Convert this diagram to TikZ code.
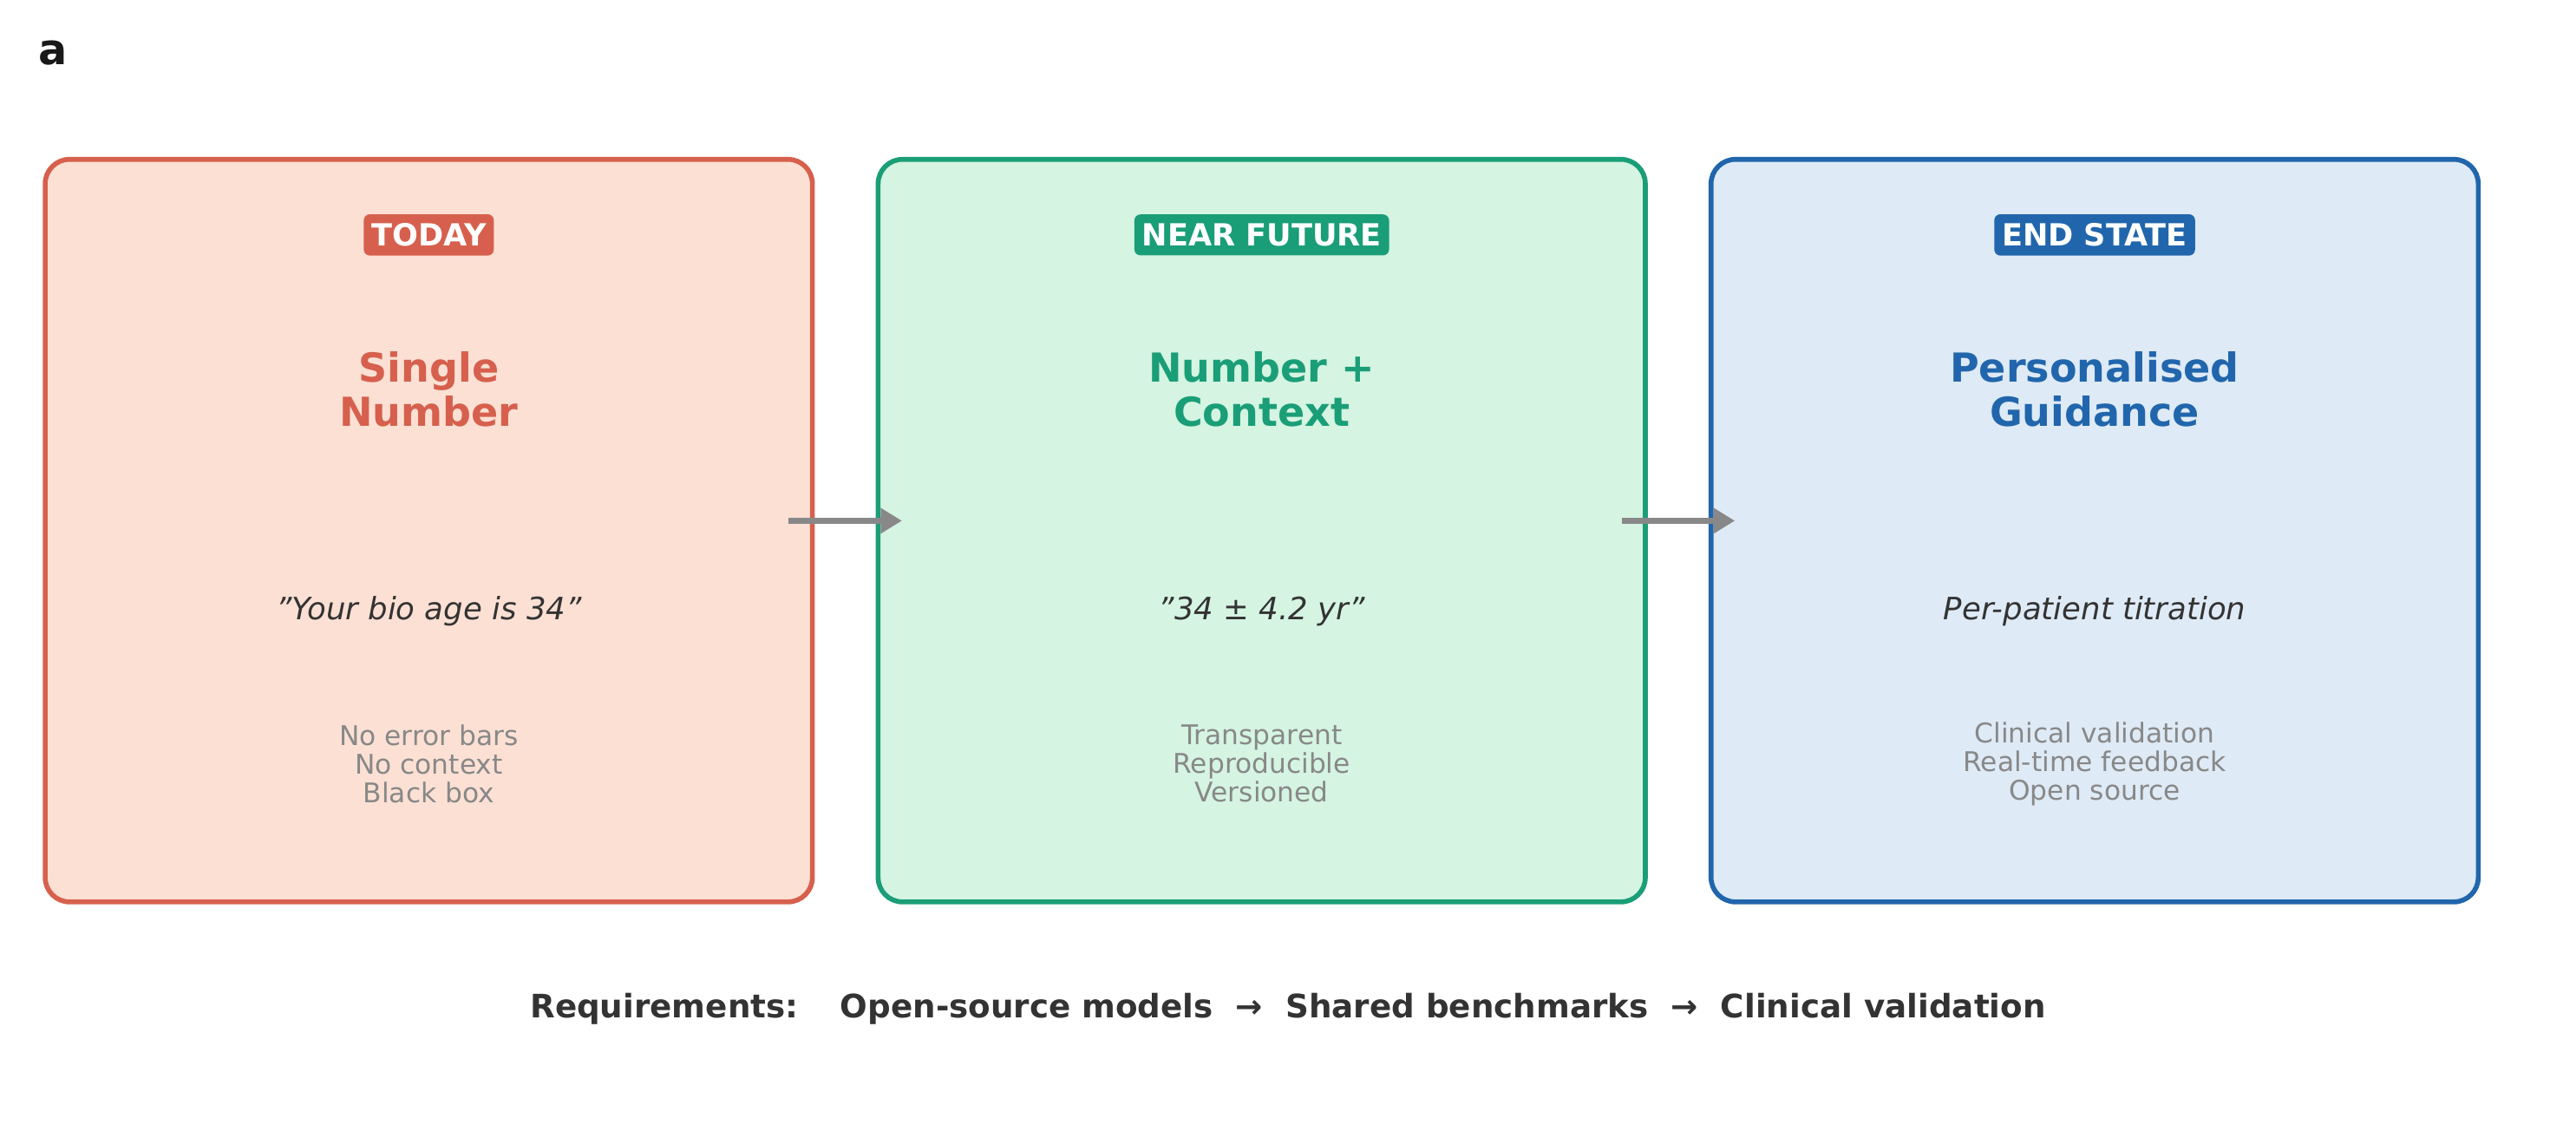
\documentclass[tikz,border=0pt]{standalone}
\usepackage{fontspec}
\setmainfont{DejaVu Sans}
\usetikzlibrary{arrows.meta,positioning}
\definecolor{todayc}{HTML}{D6604D}
\definecolor{todayf}{HTML}{FCE0D4}
\definecolor{nearc}{HTML}{1A9E77}
\definecolor{nearf}{HTML}{D5F4E2}
\definecolor{endc}{HTML}{2166AC}
\definecolor{endf}{HTML}{DEEAF6}
\definecolor{darktxt}{HTML}{333333}
\definecolor{graytxt}{HTML}{888888}
\begin{document}
\begin{tikzpicture}[x=0.01894cm,y=-0.01894cm]
  \tikzstyle{stage}=[draw,line width=1.6pt,rounded corners=8pt,minimum width=467*0.01894cm,minimum height=452*0.01894cm]
  \tikzstyle{badge}=[text=white,font=\bfseries\fontsize{10}{12}\selectfont,rounded corners=2pt,inner xsep=2.5pt,inner ysep=3pt]
  \tikzstyle{headline}=[font=\bfseries\fontsize{13.1}{14.5}\selectfont,align=center]
  \tikzstyle{quote}=[text=darktxt,font=\itshape\fontsize{10.1}{12}\selectfont]
  \tikzstyle{notes}=[text=graytxt,font=\fontsize{8.9}{9.4}\selectfont,align=center]
  \tikzstyle{stagearrow}=[-{Triangle[length=7pt,width=8pt]},line width=2.2pt,draw=graytxt]
  \useasboundingbox (0,0) rectangle (1568,696);
  \node[font=\bfseries\fontsize{14}{14}\selectfont,text=black!90] (lbl) at (32,32) {a};
  % three stages
  \node[stage,draw=todayc,fill=todayf] (today) at (261,323) {};
  \node[stage,draw=nearc,fill=nearf] (near) at (768,323) {};
  \node[stage,draw=endc,fill=endf] (final) at (1275,323) {};
  \node[badge,fill=todayc] (todayb) at (261,143) {TODAY};
  \node[badge,fill=nearc] (nearb) at (768,143) {NEAR FUTURE};
  \node[badge,fill=endc] (finalb) at (1275,143) {END STATE};
  \node[headline,text=todayc] (todayh) at (261,237) {Single\\Number};
  \node[headline,text=nearc] (nearh) at (768,237) {Number +\\Context};
  \node[headline,text=endc] (finalh) at (1275,237) {Personalised\\Guidance};
  \node[quote] (todayq) at (261,372) {\symbol{34}Your bio age is 34\symbol{34}};
  \node[quote] (nearq) at (768,372) {\symbol{34}34 ± 4.2 yr\symbol{34}};
  \node[quote] (finalq) at (1275,372) {Per-patient titration};
  \node[notes] (todayn) at (261,465) {No error bars\\No context\\Black box};
  \node[notes] (nearn) at (768,465) {Transparent\\Reproducible\\Versioned};
  \node[notes] (finaln) at (1275,465) {Clinical validation\\Real-time feedback\\Open source};
  % arrows between stages
  \coordinate (a1) at (480,317); \coordinate (b1) at (549,317);
  \coordinate (a2) at (987,317); \coordinate (b2) at (1056,317);
  \draw[stagearrow] (a1) -- (b1);
  \draw[stagearrow] (a2) -- (b2);
  \node[text=darktxt,font=\bfseries\fontsize{10.6}{12}\selectfont] (req) at (784,614)
    {Requirements:\hspace{1.3em}Open-source models\hspace{0.7em}→\hspace{0.7em}Shared benchmarks\hspace{0.7em}→\hspace{0.7em}Clinical validation};
\end{tikzpicture}
\end{document}
